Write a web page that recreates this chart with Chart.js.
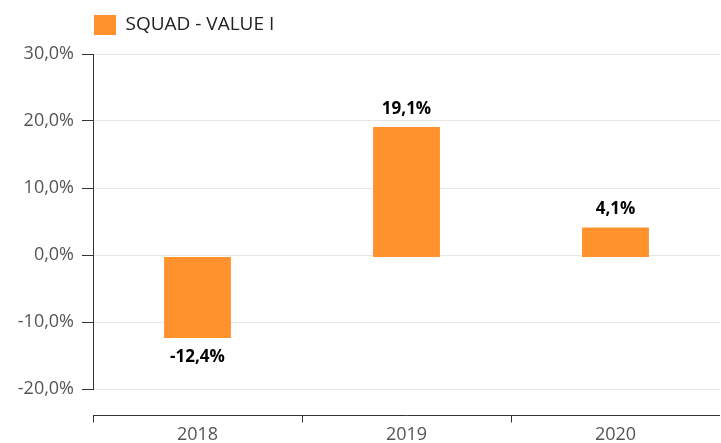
<!DOCTYPE html>
<html>
<head>
<meta charset="utf-8">
<script src="https://cdn.jsdelivr.net/npm/chart.js@4/dist/chart.umd.min.js"></script>
<style>
    html, body { margin: 0; padding: 0; background: #fff; }
    #wrap { width: 721px; height: 443px; }
</style>
</head>
<body>
<div id="wrap"><canvas id="graficoSquad"></canvas></div>
<script>
// dados
const anos = ['2018', '2019', '2020'];
const valores = [-12.4, 19.1, 4.1];
const serieNome = 'SQUAD - VALUE I';
const ticksY = [-20, -10, 0, 10, 20, 30];

const laranja = '#ff922d';
const fonte = '"Open Sans", "Noto Sans", sans-serif';

function formataPct(v) {
    return v.toFixed(1).replace('.', ',') + '%';
}

// rótulos em cima/embaixo das barras
const rotulosBarras = {
    id: 'rotulosBarras',
    afterDatasetsDraw(chart) {
        const ctx = chart.ctx;
        const meta = chart.getDatasetMeta(0);
        ctx.save();
        ctx.font = 'bold 17px ' + fonte;
        ctx.fillStyle = '#000';
        ctx.textAlign = 'center';
        ctx.textBaseline = 'middle';
        meta.data.forEach((barra, i) => {
            const v = chart.data.datasets[0].data[i];
            const y = v >= 0 ? barra.y - 18 : barra.y + 19;
            ctx.fillText(formataPct(v), barra.x, y);
        });
        ctx.restore();
    }
};

// linha do eixo X deslocada para baixo da área do gráfico
const eixoX = {
    id: 'eixoX',
    afterDraw(chart) {
        const ctx = chart.ctx;
        const x = chart.scales.x;
        const y = chart.chartArea.bottom + 26.5;
        const n = chart.data.labels.length;
        const larg = (x.right - x.left) / n;
        ctx.save();
        ctx.strokeStyle = '#333';
        ctx.lineWidth = 1;
        ctx.beginPath();
        ctx.moveTo(x.left, y);
        ctx.lineTo(x.right, y);
        for (let i = 0; i < n; i++) {
            const px = Math.round(x.left + i * larg) + 0.5;
            ctx.moveTo(px, y);
            ctx.lineTo(px, y + 7);
        }
        ctx.stroke();
        ctx.restore();
    }
};

// espaço extra embaixo da legenda
const espacoLegenda = {
    id: 'espacoLegenda',
    beforeLayout(chart) {
        const leg = chart.legend;
        if (leg && !leg._ajustado) {
            const fitOriginal = leg.fit;
            leg.fit = function () {
                fitOriginal.call(this);
                this.height += 9;
            };
            leg._ajustado = true;
        }
    }
};

const ctx = document.getElementById('graficoSquad').getContext('2d');
new Chart(ctx, {
    type: 'bar',
    data: {
        labels: anos,
        datasets: [{
            label: serieNome,
            data: valores,
            backgroundColor: laranja,
            borderWidth: 0,
            base: -0.3,
            categoryPercentage: 1,
            barPercentage: 0.32
        }]
    },
    options: {
        responsive: true,
        maintainAspectRatio: false,
        animation: false,
        layout: { padding: { top: 14, right: 1, left: 0, bottom: 0 } },
        plugins: {
            tooltip: { enabled: false },
            legend: {
                position: 'top',
                align: 'start',
                fullSize: false,
                labels: {
                    boxWidth: 22,
                    boxHeight: 20,
                    padding: 1,
                    color: '#222',
                    font: { family: fonte, size: 19 }
                }
            }
        },
        scales: {
            x: {
                grid: { display: false },
                border: { display: false },
                ticks: {
                    color: '#555',
                    padding: 27,
                    font: { family: fonte, size: 18 }
                },
                afterFit(scale) { scale.height = 54; }
            },
            y: {
                min: ticksY[0],
                max: ticksY[ticksY.length - 1],
                afterBuildTicks(scale) {
                    scale.ticks = ticksY.map(v => ({ value: v }));
                },
                afterFit(scale) { scale.width = 93; },
                grid: {
                    color: '#e6e6e6',
                    tickColor: '#333',
                    tickLength: 11,
                    lineWidth: 1
                },
                border: { display: true, color: '#333', width: 1 },
                ticks: {
                    color: '#555',
                    padding: 8,
                    font: { family: fonte, size: 18 },
                    callback: (v) => formataPct(v)
                }
            }
        }
    },
    plugins: [rotulosBarras, eixoX, espacoLegenda]
});
</script>
</body>
</html>
